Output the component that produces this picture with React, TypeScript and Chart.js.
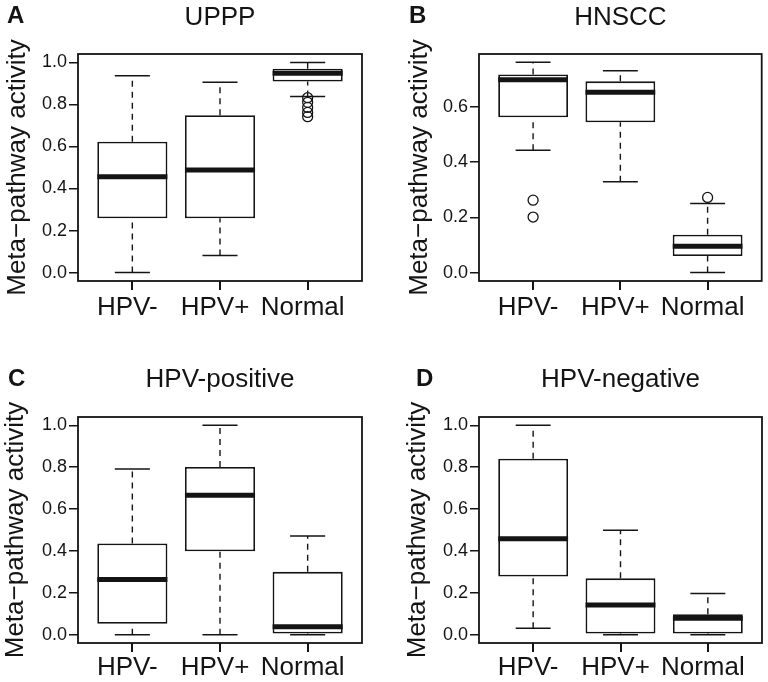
import React, { useEffect, useRef } from 'react';
import { Chart, registerables } from 'chart.js';

Chart.register(...registerables);

// ---------- data ----------
const groups = ['HPV-', 'HPV+', 'Normal'];
const yAxisTitle = 'Meta\u2212pathway activity';

const ticksFull = [0, 0.2, 0.4, 0.6, 0.8, 1.0];
const ticksHnscc = [0, 0.2, 0.4, 0.6];
const rangeFull = [-0.04, 1.04];
const rangeHnscc = [-0.0305, 0.791];

// A: UPPP
const upppMin = [0.0, 0.081, 0.838];
const upppQ1 = [0.258, 0.258, 0.909];
const upppMedian = [0.456, 0.488, 0.949];
const upppQ3 = [0.623, 0.749, 0.97];
const upppMax = [0.937, 0.906, 1.0];
const upppOutliers: [number, number][] = [[3, 0.832], [3, 0.81], [3, 0.786], [3, 0.762], [3, 0.742]];

// B: HNSCC
const hnsccMin = [0.443, 0.329, 0.0];
const hnsccQ1 = [0.562, 0.544, 0.06];
const hnsccMedian = [0.698, 0.653, 0.095];
const hnsccQ3 = [0.717, 0.692, 0.137];
const hnsccMax = [0.761, 0.73, 0.25];
const hnsccOutliers: [number, number][] = [[1, 0.262], [1, 0.201], [3, 0.272]];

// C: HPV-positive
const posMin = [0.0, 0.0, 0.0];
const posQ1 = [0.052, 0.398, 0.005];
const posMedian = [0.264, 0.666, 0.038];
const posQ3 = [0.436, 0.801, 0.3];
const posMax = [0.792, 1.0, 0.471];
const posOutliers: [number, number][] = [];

// D: HPV-negative
const negMin = [0.03, 0.0, 0.0];
const negQ1 = [0.278, 0.005, 0.005];
const negMedian = [0.458, 0.142, 0.078];
const negQ3 = [0.841, 0.269, 0.097];
const negMax = [1.0, 0.499, 0.196];
const negOutliers: [number, number][] = [];

// ---------- layout / style ----------
const W = 384;
const H = 341;
const INK = '#141414';
const FONT = '"Liberation Sans", Arial, Helvetica, sans-serif';
const BOX_HALF = 0.4;     // half box width in category units (R boxwex 0.8)
const CAP_HALF = 0.2;     // half staple width (R staplewex 0.5)
const TICK_LEN = 9;

type Panel = {
  letter: string; title: string;
  min: number[]; q1: number[]; med: number[]; q3: number[]; max: number[];
  outliers: [number, number][];
  ticks: number[]; range: number[];
  col: number; row: number;
  left: number; right: number; top: number; bottom: number;
  yTitleX: number; titleY: number; letterX: number; letterY: number; xPad: number;
};

const panels: Panel[] = [
  { letter: 'A', title: 'UPPP', min: upppMin, q1: upppQ1, med: upppMedian, q3: upppQ3, max: upppMax, outliers: upppOutliers,
    ticks: ticksFull, range: rangeFull, col: 0, row: 0,
    left: 78, right: 362, top: 54, bottom: 281, yTitleX: 18, titleY: 25, letterX: 7, letterY: 23, xPad: 5 },
  { letter: 'B', title: 'HNSCC', min: hnsccMin, q1: hnsccQ1, med: hnsccMedian, q3: hnsccQ3, max: hnsccMax, outliers: hnsccOutliers,
    ticks: ticksHnscc, range: rangeHnscc, col: 1, row: 0,
    left: 95, right: 378, top: 54, bottom: 281, yTitleX: 36, titleY: 25, letterX: 25, letterY: 23, xPad: 5 },
  { letter: 'C', title: 'HPV-positive', min: posMin, q1: posQ1, med: posMedian, q3: posQ3, max: posMax, outliers: posOutliers,
    ticks: ticksFull, range: rangeFull, col: 0, row: 1,
    left: 78, right: 362, top: 76, bottom: 302, yTitleX: 16, titleY: 46, letterX: 8, letterY: 45, xPad: 3 },
  { letter: 'D', title: 'HPV-negative', min: negMin, q1: negQ1, med: negMedian, q3: negQ3, max: negMax, outliers: negOutliers,
    ticks: ticksFull, range: rangeFull, col: 1, row: 1,
    left: 95, right: 378, top: 76, bottom: 302, yTitleX: 34, titleY: 46, letterX: 32, letterY: 45, xPad: 3 },
];

function hSegments(values: number[], half: number) {
  const out: any[] = [];
  values.forEach((v, i) => {
    const c = i + 1;
    out.push({ x: c - half, y: v }, { x: c + half, y: v }, { x: c, y: null });
  });
  return out;
}

function buildDatasets(p: Panel): any[] {
  const whiskers: any[] = [];
  p.min.forEach((lo, i) => {
    const x = i + 1;
    whiskers.push({ x, y: lo }, { x, y: p.q1[i] }, { x, y: null }, { x, y: p.q3[i] }, { x, y: p.max[i] }, { x, y: null });
  });
  return [
    {
      type: 'scatter', label: 'outliers',
      data: p.outliers.map(([g, v]) => ({ x: g, y: v })),
      pointStyle: 'circle', pointRadius: 5, borderWidth: 1.3,
      borderColor: INK, backgroundColor: 'rgba(0,0,0,0)', order: 0,
    },
    {
      type: 'line', label: 'median',
      data: hSegments(p.med, BOX_HALF), spanGaps: false,
      borderColor: INK, borderWidth: 5, borderCapStyle: 'butt',
      pointRadius: 0, fill: false, order: 1,
    },
    {
      type: 'line', label: 'caps',
      data: [...hSegments(p.min, CAP_HALF), ...hSegments(p.max, CAP_HALF)], spanGaps: false,
      borderColor: INK, borderWidth: 1.5, borderCapStyle: 'butt',
      pointRadius: 0, fill: false, order: 2,
    },
    {
      type: 'line', label: 'whiskers',
      data: whiskers, spanGaps: false,
      borderColor: INK, borderWidth: 1.4, borderDash: [6, 5],
      pointRadius: 0, fill: false, order: 3,
    },
    {
      type: 'bar', label: 'box',
      data: p.q1.map((v, i) => ({ x: i + 1, y: [v, p.q3[i]] })),
      backgroundColor: '#ffffff', borderColor: INK, borderWidth: 1.8,
      borderSkipped: false, barPercentage: BOX_HALF * 2, categoryPercentage: 1, order: 4,
    },
  ];
}

function PanelChart({ p }: { p: Panel }) {
  const ref = useRef<HTMLCanvasElement | null>(null);
  useEffect(() => {
    if (!ref.current) return;
    const padLeft = p.yTitleX - 13;
    const framePlugin = {
      id: 'panelFrame' + p.letter,
      afterDraw(chart: any) {
        const { ctx, chartArea } = chart;
        const xs = chart.scales.x;
        ctx.save();
        // x tick marks below the frame, one per category
        const span = xs.max - xs.min;
        const w = chartArea.right - chartArea.left;
        ctx.strokeStyle = INK;
        ctx.lineWidth = 2;
        ctx.setLineDash([]);
        ctx.beginPath();
        groups.forEach((_, i) => {
          const px = Math.round(chartArea.left + ((i + 1 - xs.min) / span) * w);
          ctx.moveTo(px, chartArea.bottom);
          ctx.lineTo(px, chartArea.bottom + TICK_LEN);
        });
        ctx.stroke();
        ctx.lineWidth = 1.8;
        ctx.strokeRect(chartArea.left, chartArea.top, chartArea.right - chartArea.left, chartArea.bottom - chartArea.top);
        ctx.fillStyle = INK;
        ctx.textBaseline = 'alphabetic';
        ctx.textAlign = 'center';
        ctx.font = `26px ${FONT}`;
        ctx.fillText(p.title, (chartArea.left + chartArea.right) / 2, p.titleY);
        ctx.textAlign = 'left';
        ctx.font = `bold 24px ${FONT}`;
        ctx.fillText(p.letter, p.letterX, p.letterY);
        ctx.restore();
      },
    };
    const chart = new Chart(ref.current, {
      type: 'bar',
      data: { datasets: buildDatasets(p) as any },
      options: {
        animation: false,
        responsive: false,
        devicePixelRatio: 1,
        events: [],
        layout: { padding: { left: padLeft, top: p.top, right: W - p.right, bottom: 0 } },
        plugins: { legend: { display: false }, tooltip: { enabled: false }, title: { display: false } },
        scales: {
          x: {
            type: 'linear', min: 0.38, max: 3.62, offset: false,
            afterBuildTicks: (s: any) => { s.ticks = groups.map((_, i) => ({ value: i + 1 })); },
            afterFit: (s: any) => { s.height = H - p.bottom; s.paddingLeft = 0; s.paddingRight = 0; },
            ticks: {
              autoSkip: false, maxRotation: 0, minRotation: 0, padding: p.xPad, color: INK,
              labelOffset: -5,
              font: { size: 26, family: FONT, lineHeight: 1 },
              callback: (v: any) => groups[Math.round(Number(v)) - 1] ?? '',
            },
            grid: { display: true, offset: false, drawOnChartArea: false, drawTicks: true, tickLength: TICK_LEN, color: INK, lineWidth: 2 },
            border: { display: false },
          },
          y: {
            type: 'linear', min: p.range[0], max: p.range[1],
            afterBuildTicks: (s: any) => { s.ticks = p.ticks.map((v) => ({ value: v })); },
            afterFit: (s: any) => { s.width = p.left - padLeft; s.paddingTop = 0; s.paddingBottom = 0; },
            ticks: {
              padding: 2, color: INK,
              font: { size: 18, family: FONT },
              callback: (v: any) => Number(v).toFixed(1),
            },
            grid: { display: true, offset: false, drawOnChartArea: false, drawTicks: true, tickLength: TICK_LEN, color: INK, lineWidth: 1.5 },
            border: { display: false },
            title: {
              display: true, text: yAxisTitle, color: INK, padding: 0,
              font: { size: 26, family: FONT, lineHeight: 1 },
            },
          },
        },
      } as any,
      plugins: [framePlugin],
    });
    return () => chart.destroy();
  }, [p]);
  return (
    <div style={{ position: 'absolute', left: p.col * W, top: p.row * H, width: W, height: H }}>
      <canvas ref={ref} width={W} height={H} style={{ width: W, height: H, display: 'block' }} />
    </div>
  );
}

export default function App() {
  return (
    <div style={{ position: 'absolute', left: 0, top: 0, width: 768, height: 682, background: '#fff' }}>
      {panels.map((p) => (
        <PanelChart key={p.letter} p={p} />
      ))}
    </div>
  );
}
